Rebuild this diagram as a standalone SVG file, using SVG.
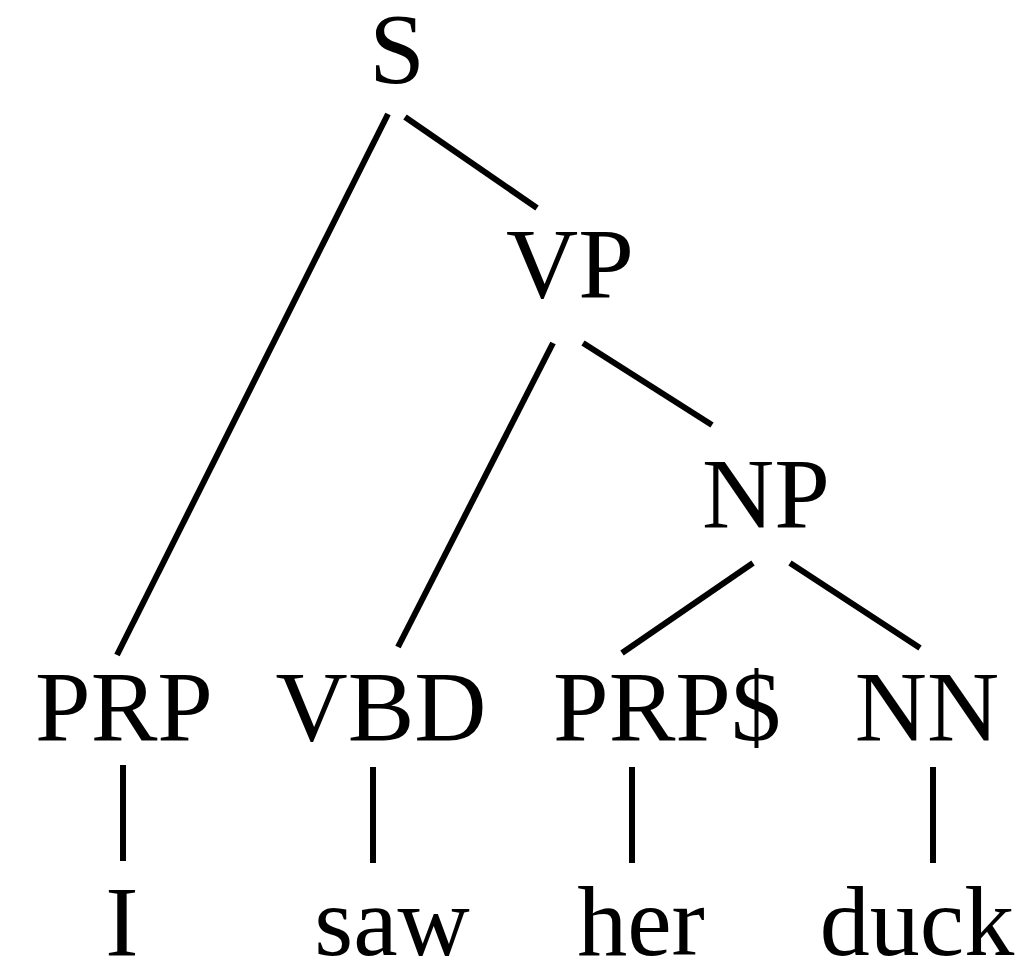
<svg xmlns="http://www.w3.org/2000/svg" width="1030" height="962" viewBox="0 0 1030 962">
  <style>
    .lbl { font-family: "Liberation Serif", "DejaVu Serif", serif; font-size: 100px; fill: #000; text-anchor: middle; }
    .edge { stroke: #000; stroke-width: 6; fill: none; }
  </style>
  <rect width="1030" height="962" fill="#fff"/>
  <!-- tree edges -->
  <g id="edges">
    <line class="edge" x1="388" y1="114" x2="117" y2="655"/>
    <line class="edge" x1="405" y1="117" x2="537" y2="208"/>
    <line class="edge" x1="553" y1="343" x2="398" y2="647"/>
    <line class="edge" x1="583" y1="343" x2="712" y2="425"/>
    <line class="edge" x1="753" y1="563" x2="622" y2="653"/>
    <line class="edge" x1="790" y1="563" x2="920" y2="648"/>
    <line class="edge" x1="123" y1="765" x2="123" y2="861"/>
    <line class="edge" x1="373" y1="767" x2="373" y2="863"/>
    <line class="edge" x1="632" y1="767" x2="632" y2="863"/>
    <line class="edge" x1="933" y1="767" x2="933" y2="863"/>
  </g>
  <!-- phrase and tag nodes -->
  <g id="n-S"><text class="lbl" x="397" y="82">S</text></g>
  <g id="n-VP"><text class="lbl" x="570" y="297">VP</text></g>
  <g id="n-NP"><text class="lbl" x="766" y="527">NP</text></g>
  <g id="n-PRP"><text class="lbl" x="124" y="740">PRP</text></g>
  <g id="n-VBD"><text class="lbl" x="381" y="740">VBD</text></g>
  <g id="n-PRPS"><text class="lbl" x="667" y="740">PRP$</text></g>
  <g id="n-NN"><text class="lbl" x="927" y="740">NN</text></g>
  <!-- words -->
  <g id="w-I"><text class="lbl" x="122" y="955">I</text></g>
  <g id="w-saw"><text class="lbl" x="392" y="955">saw</text></g>
  <g id="w-her"><text class="lbl" x="641" y="955">her</text></g>
  <g id="w-duck"><text class="lbl" x="917" y="955">duck</text></g>
</svg>
